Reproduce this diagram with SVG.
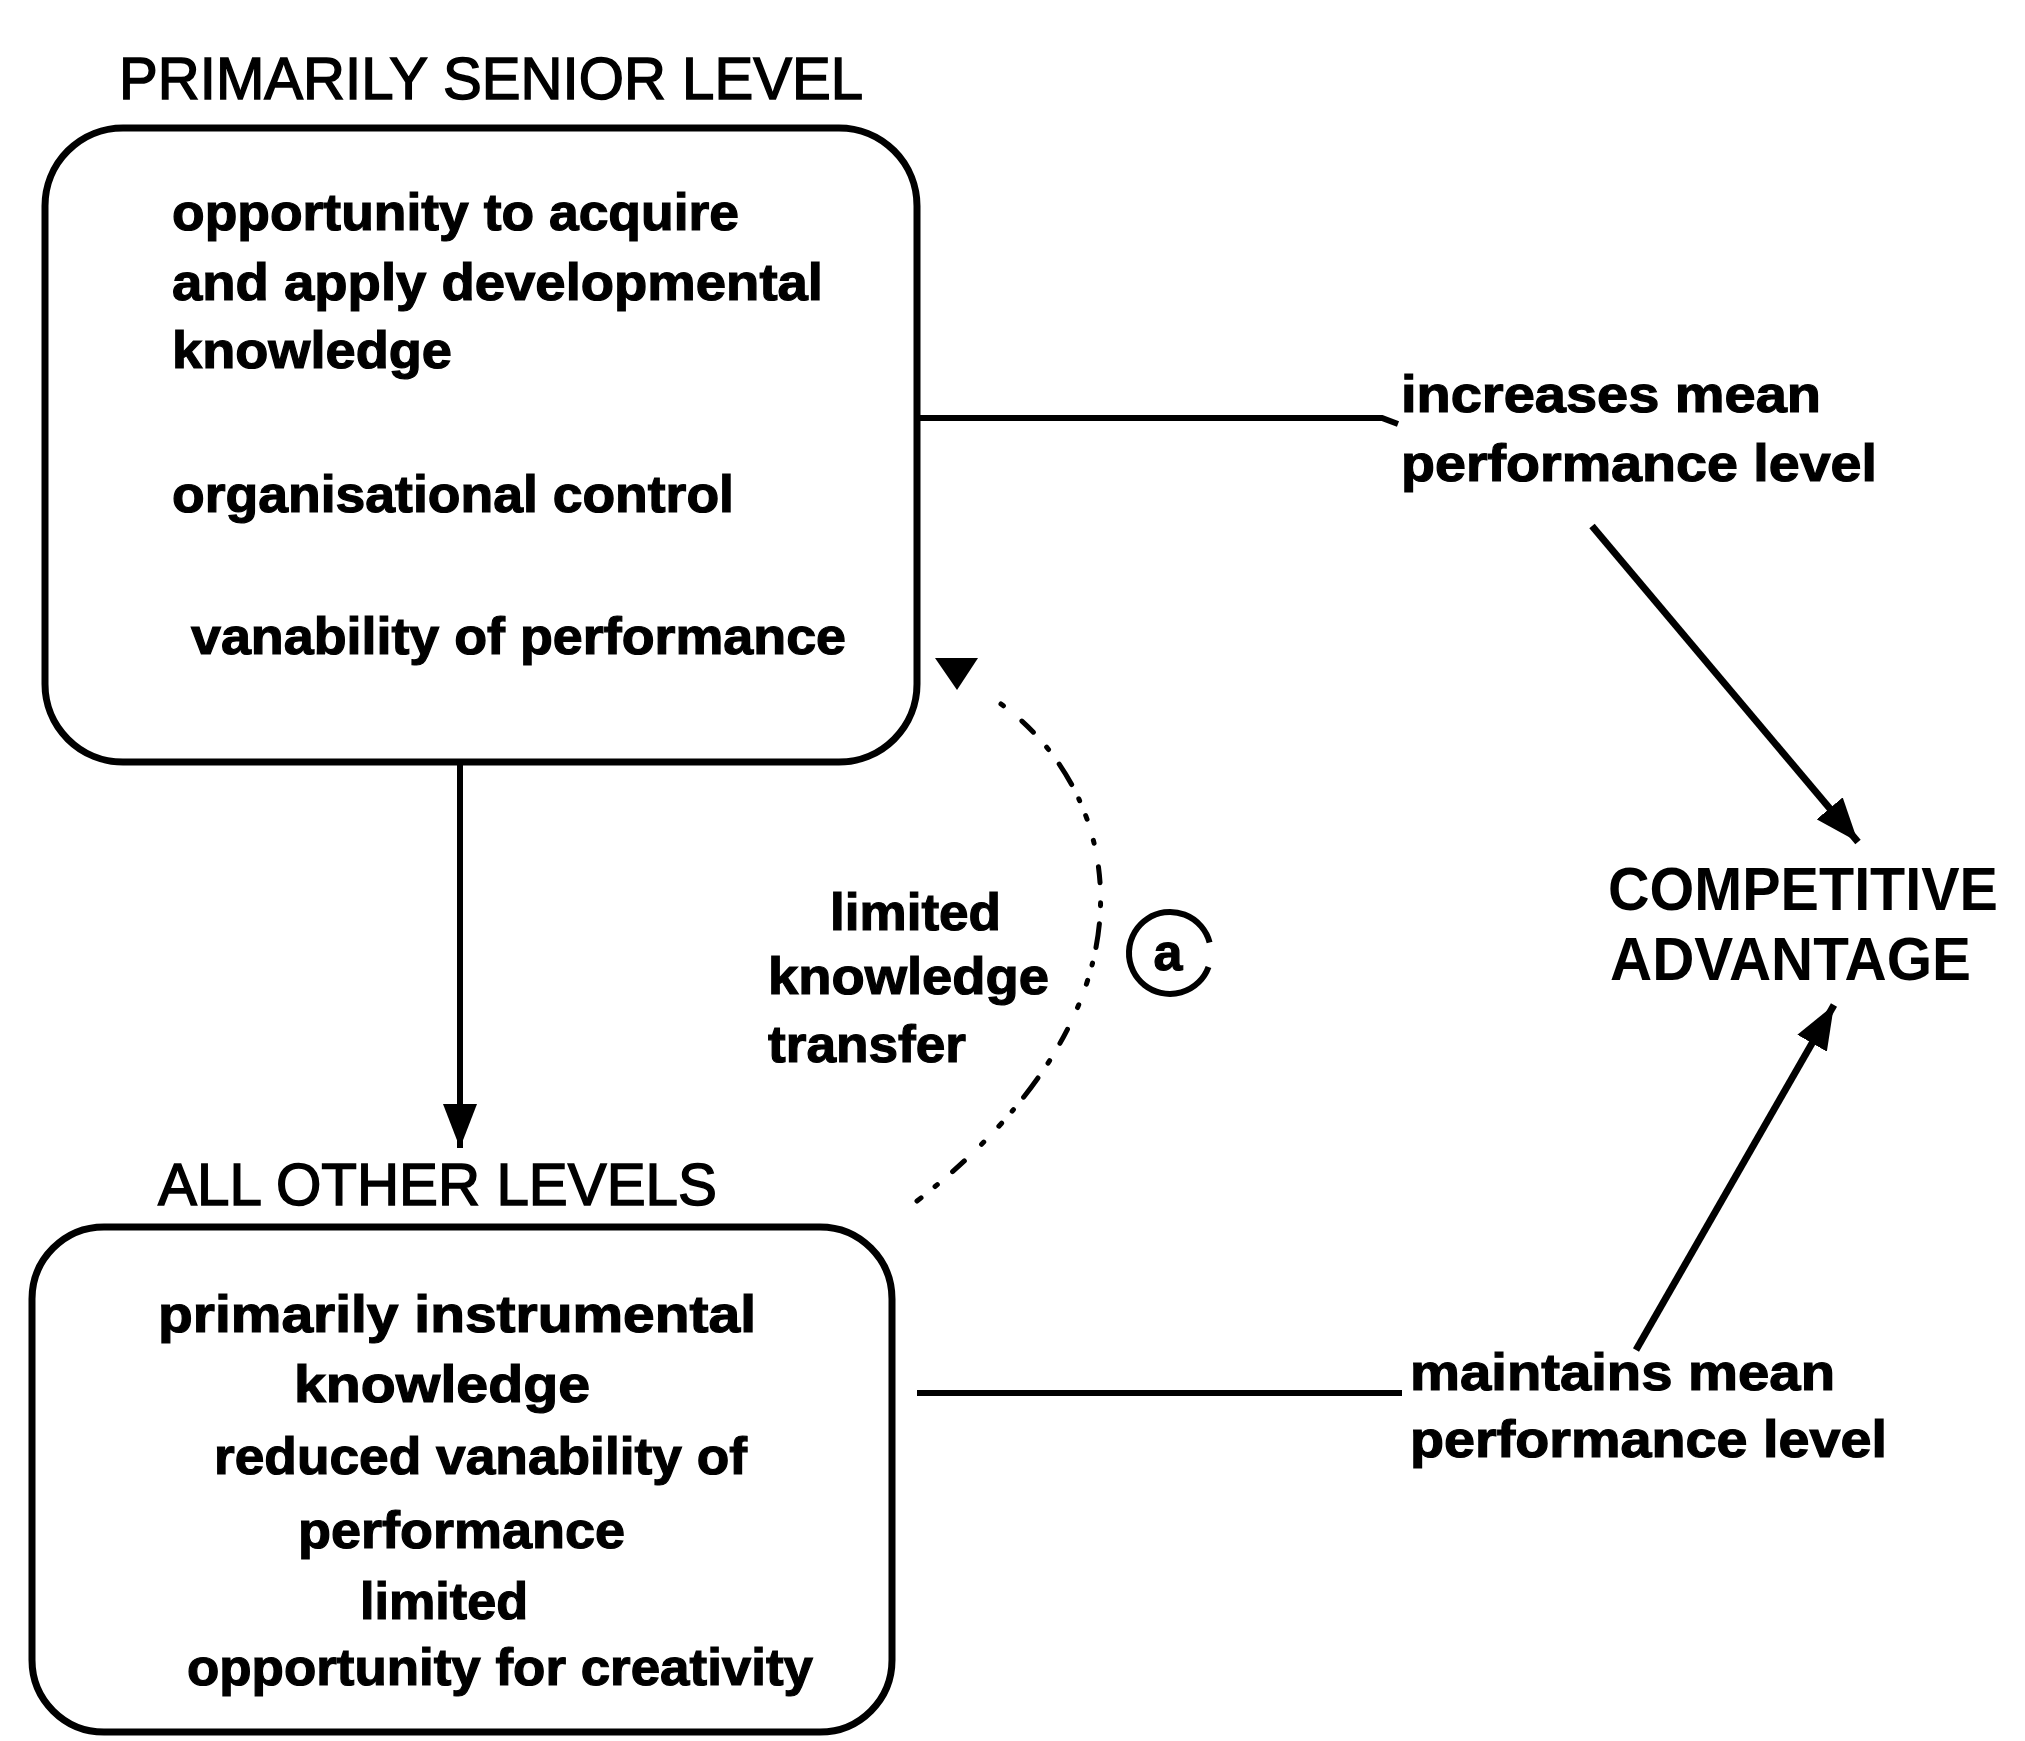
<svg xmlns="http://www.w3.org/2000/svg" width="2025" height="1741" viewBox="0 0 2025 1741">
  <style>
    .box { fill: none; stroke: #000; stroke-width: 7; }
    .title { font-family: "Liberation Sans", Arial, sans-serif; font-size: 60px; fill: #000; stroke: #000; stroke-width: 1.5; }
    .body { font-family: "Liberation Sans", Arial, sans-serif; font-size: 52px; font-weight: bold; fill: #000; stroke: #000; stroke-width: 1.2; }
    .big { font-family: "Liberation Sans", Arial, sans-serif; font-size: 62px; font-weight: bold; fill: #000; }
    .link { fill: none; stroke: #000; stroke-width: 6; }
    .thick { fill: none; stroke: #000; stroke-width: 7; }
    .dots { fill: none; stroke: #000; stroke-width: 5; stroke-linecap: round; stroke-dasharray: 3 24 16 20 3 18 24 16 2 16 4 22; }
  </style>
  <defs>
    <marker id="head" viewBox="0 0 44 34" refX="44" refY="17" markerWidth="44" markerHeight="34" markerUnits="userSpaceOnUse" orient="auto">
      <path d="M0,0 L44,17 L0,34 z" fill="#000"/>
    </marker>
  </defs>
  <rect width="2025" height="1741" fill="#fff"/>

  <!-- connectors -->
  <g id="connectors">
    <line class="link" x1="460" y1="762" x2="460" y2="1148" marker-end="url(#head)"/>
    <polyline class="link" points="917,418 1382,418 1398,424"/>
    <line class="link" x1="917" y1="1393" x2="1402" y2="1393"/>
    <line class="thick" x1="1592" y1="526" x2="1858" y2="842" marker-end="url(#head)"/>
    <line class="thick" x1="1636" y1="1350" x2="1834" y2="1005" marker-end="url(#head)"/>
    <path class="dots" d="M1001,704 C1120,790 1175,1000 917,1201"/>
    <polygon points="935,658 978,658 957,690" fill="#000"/>
  </g>

  <!-- senior level -->
  <g id="senior">
    <text class="title" x="119" y="99" textLength="744" lengthAdjust="spacingAndGlyphs">PRIMARILY SENIOR LEVEL</text>
    <rect class="box" x="45" y="128" width="872" height="634" rx="78"/>
    <text class="body" x="172" y="230" textLength="567" lengthAdjust="spacingAndGlyphs">opportunity to acquire</text>
    <text class="body" x="172" y="300" textLength="651" lengthAdjust="spacingAndGlyphs">and apply developmental</text>
    <text class="body" x="172" y="368" textLength="280" lengthAdjust="spacingAndGlyphs">knowledge</text>
    <text class="body" x="172" y="512" textLength="562" lengthAdjust="spacingAndGlyphs">organisational control</text>
    <text class="body" x="191" y="654" textLength="655" lengthAdjust="spacingAndGlyphs">vanability of performance</text>
  </g>

  <!-- other levels -->
  <g id="other">
    <text class="title" x="158" y="1205" textLength="559" lengthAdjust="spacingAndGlyphs">ALL OTHER LEVELS</text>
    <rect class="box" x="32" y="1227" width="860" height="505" rx="72"/>
    <text class="body" x="158" y="1332" textLength="598" lengthAdjust="spacingAndGlyphs">primarily instrumental</text>
    <text class="body" x="294" y="1402" textLength="296" lengthAdjust="spacingAndGlyphs">knowledge</text>
    <text class="body" x="214" y="1474" textLength="533" lengthAdjust="spacingAndGlyphs">reduced vanability of</text>
    <text class="body" x="298" y="1548" textLength="327" lengthAdjust="spacingAndGlyphs">performance</text>
    <text class="body" x="360" y="1619" textLength="168" lengthAdjust="spacingAndGlyphs">limited</text>
    <text class="body" x="187" y="1685" textLength="626" lengthAdjust="spacingAndGlyphs">opportunity for creativity</text>
  </g>

  <!-- transfer label -->
  <g id="transfer">
    <text class="body" x="830" y="930" textLength="171" lengthAdjust="spacingAndGlyphs">limited</text>
    <text class="body" x="768" y="994" textLength="281" lengthAdjust="spacingAndGlyphs">knowledge</text>
    <text class="body" x="768" y="1062" textLength="198" lengthAdjust="spacingAndGlyphs">transfer</text>
    <path class="link" d="M1209.6,942.4 A41,41 0 1 0 1208.5,967"/>
    <text class="body" x="1168" y="970" text-anchor="middle" font-size="46">a</text>
  </g>

  <!-- effects -->
  <g id="increases">
    <text class="body" x="1401" y="412" textLength="420" lengthAdjust="spacingAndGlyphs">increases mean</text>
    <text class="body" x="1401" y="481" textLength="476" lengthAdjust="spacingAndGlyphs">performance level</text>
  </g>
  <g id="maintains">
    <text class="body" x="1410" y="1390" textLength="425" lengthAdjust="spacingAndGlyphs">maintains mean</text>
    <text class="body" x="1410" y="1457" textLength="477" lengthAdjust="spacingAndGlyphs">performance level</text>
  </g>

  <g id="advantage">
    <text class="big" x="1608" y="910" textLength="390" lengthAdjust="spacingAndGlyphs">COMPETITIVE</text>
    <text class="big" x="1610" y="980" textLength="361" lengthAdjust="spacingAndGlyphs">ADVANTAGE</text>
  </g>
</svg>
